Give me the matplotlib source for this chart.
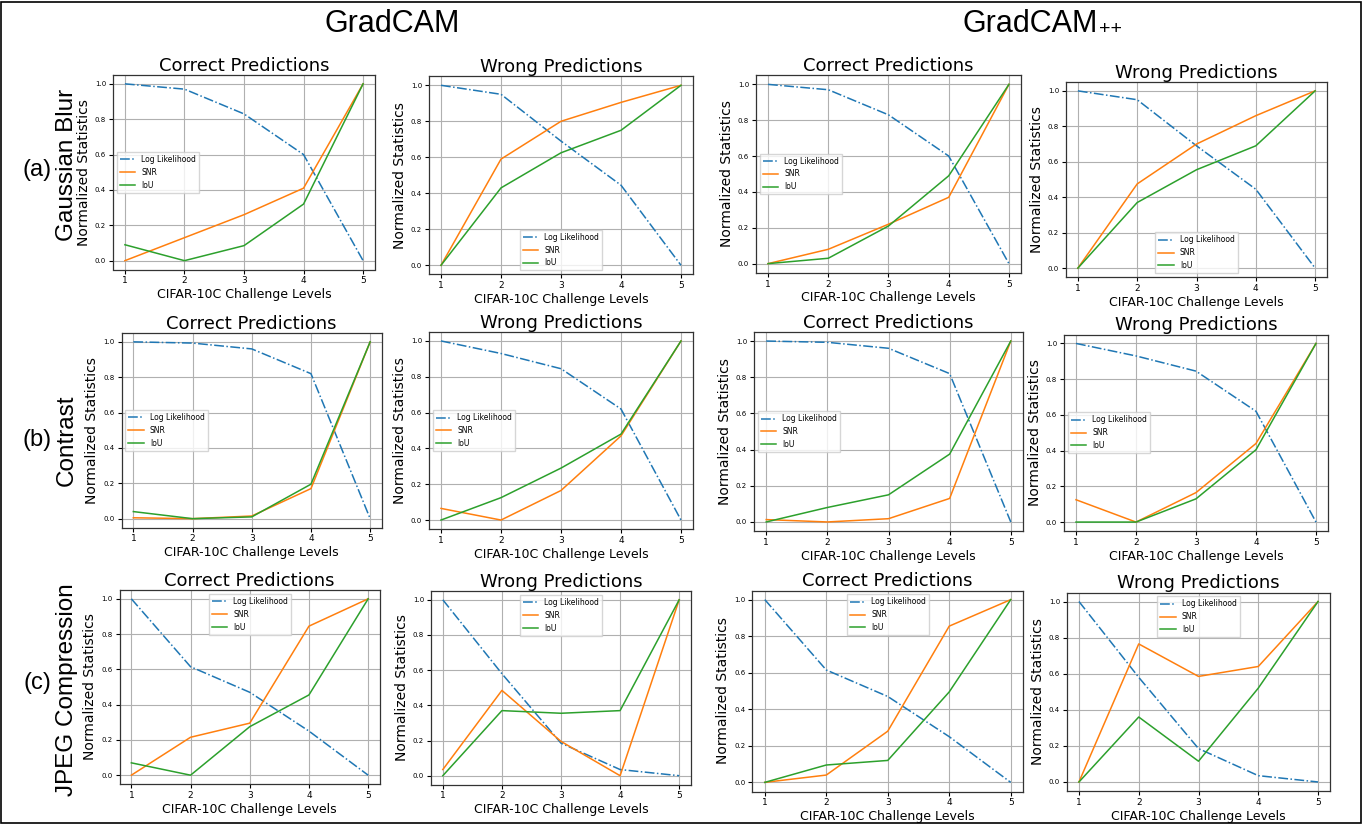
import matplotlib
matplotlib.use('Agg')
import matplotlib.pyplot as plt
from matplotlib.patches import Rectangle

levels = [1, 2, 3, 4, 5]
series_names = ['Log Likelihood', 'SNR', 'IoU']

# (a) Gaussian Blur
blur_correct_ll = [1.0, 0.97, 0.83, 0.60, 0.0]
blur_wrong_ll = [1.0, 0.95, 0.69, 0.445, 0.0]
blur_gradcam_correct_snr = [0.0, 0.13, 0.26, 0.41, 1.0]
blur_gradcam_correct_iou = [0.09, 0.0, 0.085, 0.32, 1.0]
blur_gradcam_wrong_snr = [0.0, 0.59, 0.80, 0.905, 1.0]
blur_gradcam_wrong_iou = [0.0, 0.43, 0.625, 0.75, 1.0]
blur_gradcampp_correct_snr = [0.0, 0.08, 0.22, 0.37, 1.0]
blur_gradcampp_correct_iou = [0.0, 0.03, 0.21, 0.49, 1.0]
blur_gradcampp_wrong_snr = [0.0, 0.475, 0.70, 0.86, 1.0]
blur_gradcampp_wrong_iou = [0.0, 0.37, 0.555, 0.69, 1.0]

# (b) Contrast
contrast_correct_ll = [1.0, 0.993, 0.96, 0.82, 0.0]
contrast_wrong_ll = [1.0, 0.93, 0.845, 0.62, 0.0]
contrast_gradcam_correct_snr = [0.005, 0.0, 0.015, 0.17, 1.0]
contrast_gradcam_correct_iou = [0.04, 0.0, 0.01, 0.195, 1.0]
contrast_gradcam_wrong_snr = [0.065, 0.0, 0.165, 0.47, 1.0]
contrast_gradcam_wrong_iou = [0.0, 0.125, 0.29, 0.48, 1.0]
contrast_gradcampp_correct_snr = [0.013, 0.0, 0.018, 0.13, 1.0]
contrast_gradcampp_correct_iou = [0.0, 0.08, 0.15, 0.375, 1.0]
contrast_gradcampp_wrong_snr = [0.125, 0.0, 0.165, 0.44, 1.0]
contrast_gradcampp_wrong_iou = [0.0, 0.0, 0.13, 0.405, 1.0]

# (c) JPEG Compression
jpeg_correct_ll = [1.0, 0.615, 0.47, 0.25, 0.0]
jpeg_wrong_ll = [1.0, 0.58, 0.185, 0.035, 0.0]
jpeg_gradcam_correct_snr = [0.0, 0.215, 0.295, 0.845, 1.0]
jpeg_gradcam_correct_iou = [0.07, 0.0, 0.275, 0.455, 1.0]
jpeg_gradcam_wrong_snr = [0.035, 0.485, 0.195, 0.0, 1.0]
jpeg_gradcam_wrong_iou = [0.0, 0.37, 0.355, 0.37, 1.0]
jpeg_gradcampp_correct_snr = [0.0, 0.04, 0.28, 0.855, 1.0]
jpeg_gradcampp_correct_iou = [0.0, 0.095, 0.12, 0.495, 1.0]
jpeg_gradcampp_wrong_snr = [0.0, 0.765, 0.585, 0.64, 1.0]
jpeg_gradcampp_wrong_iou = [0.0, 0.36, 0.115, 0.52, 1.0]

W, H = 1364, 825

# pixel boxes (left, top, right, bottom) of each panel, as in the composite
panels = [
    ((113, 75, 375, 269.5), 'Correct Predictions', blur_correct_ll, blur_gradcam_correct_snr, blur_gradcam_correct_iou, 'center left'),
    ((429, 76.3, 693, 274.3), 'Wrong Predictions', blur_wrong_ll, blur_gradcam_wrong_snr, blur_gradcam_wrong_iou, 'lower center'),
    ((756, 75.4, 1021, 272.6), 'Correct Predictions', blur_correct_ll, blur_gradcampp_correct_snr, blur_gradcampp_correct_iou, 'center left'),
    ((1066, 82, 1327, 277), 'Wrong Predictions', blur_wrong_ll, blur_gradcampp_wrong_snr, blur_gradcampp_wrong_iou, 'lower center'),
    ((121.5, 333, 382, 527.5), 'Correct Predictions', contrast_correct_ll, contrast_gradcam_correct_snr, contrast_gradcam_correct_iou, 'center left'),
    ((429, 332, 693, 529), 'Wrong Predictions', contrast_wrong_ll, contrast_gradcam_wrong_snr, contrast_gradcam_wrong_iou, 'center left'),
    ((754, 332, 1023, 531), 'Correct Predictions', contrast_correct_ll, contrast_gradcampp_correct_snr, contrast_gradcampp_correct_iou, 'center left'),
    ((1064, 334.5, 1328, 531), 'Wrong Predictions', contrast_wrong_ll, contrast_gradcampp_wrong_snr, contrast_gradcampp_wrong_iou, 'center left'),
    ((119.5, 590, 380, 784), 'Correct Predictions', jpeg_correct_ll, jpeg_gradcam_correct_snr, jpeg_gradcam_correct_iou, 'upper center'),
    ((431, 591, 691, 784.5), 'Wrong Predictions', jpeg_wrong_ll, jpeg_gradcam_wrong_snr, jpeg_gradcam_wrong_iou, 'upper center'),
    ((752.5, 590.5, 1023, 791.5), 'Correct Predictions', jpeg_correct_ll, jpeg_gradcampp_correct_snr, jpeg_gradcampp_correct_iou, 'upper center'),
    ((1067, 592.5, 1330, 791), 'Wrong Predictions', jpeg_wrong_ll, jpeg_gradcampp_wrong_snr, jpeg_gradcampp_wrong_iou, 'upper center'),
]

fig = plt.figure(figsize=(W / 100, H / 100), dpi=100)
fig.patch.set_facecolor('white')

for (l, t, r, b), title, ll, snr, iou, loc in panels:
    ax = fig.add_axes([l / W, 1 - b / H, (r - l) / W, (b - t) / H])
    ax.plot(levels, ll, color='#1f77b4', ls='-.', lw=1.1, label=series_names[0])
    ax.plot(levels, snr, color='#ff7f0e', lw=1.1, label=series_names[1])
    ax.plot(levels, iou, color='#2ca02c', lw=1.1, label=series_names[2])
    ax.set_xlim(0.8, 5.2)
    ax.set_ylim(-0.05, 1.05)
    ax.set_xticks(levels)
    ax.set_yticks([0.0, 0.2, 0.4, 0.6, 0.8, 1.0])
    ax.grid(True, color='#b0b0b0', lw=0.8)
    ax.tick_params(axis='x', labelsize=6.5, length=3, pad=2)
    ax.tick_params(axis='y', labelsize=5, length=3, pad=2)
    for s in ax.spines.values():
        s.set_color('#333333')
        s.set_linewidth(0.9)
    ax.set_title(title, fontsize=13, pad=3)
    ax.set_xlabel('CIFAR-10C Challenge Levels', fontsize=9, labelpad=2)
    ax.set_ylabel('Normalized Statistics', fontsize=10, labelpad=3)
    ax.legend(loc=loc, fontsize=5.5, framealpha=0.8, edgecolor='0.8', fancybox=False)

# column headers
hfont = 'Liberation Sans'
fig.text(392 / W, 1 - 24 / H, 'GradCAM', fontsize=22, family=hfont, ha='center', va='center')
fig.text(1098 / W, 1 - 24 / H, 'GradCAM', fontsize=22, family=hfont, ha='right', va='center')
fig.text(1099 / W, 1 - 30 / H, '++', fontsize=14, family=hfont, ha='left', va='center')

# row labels
rows = [('(a)', 'Gaussian Blur', 170, 165), ('(b)', 'Contrast', 440, 440), ('(c)', 'JPEG Compression', 683, 690)]
for tag, name, ytag, yname in rows:
    fig.text(37 / W, 1 - ytag / H, tag, fontsize=17, family=hfont, ha='center', va='center')
    fig.text(67 / W, 1 - yname / H, name, fontsize=17.5, family=hfont, rotation=90, ha='center', va='center')

fig.patches.append(Rectangle((0.001, 0.002), 0.997, 0.996, transform=fig.transFigure,
                             fill=False, edgecolor='black', lw=1.2))

fig.savefig('out.png', dpi=100)
